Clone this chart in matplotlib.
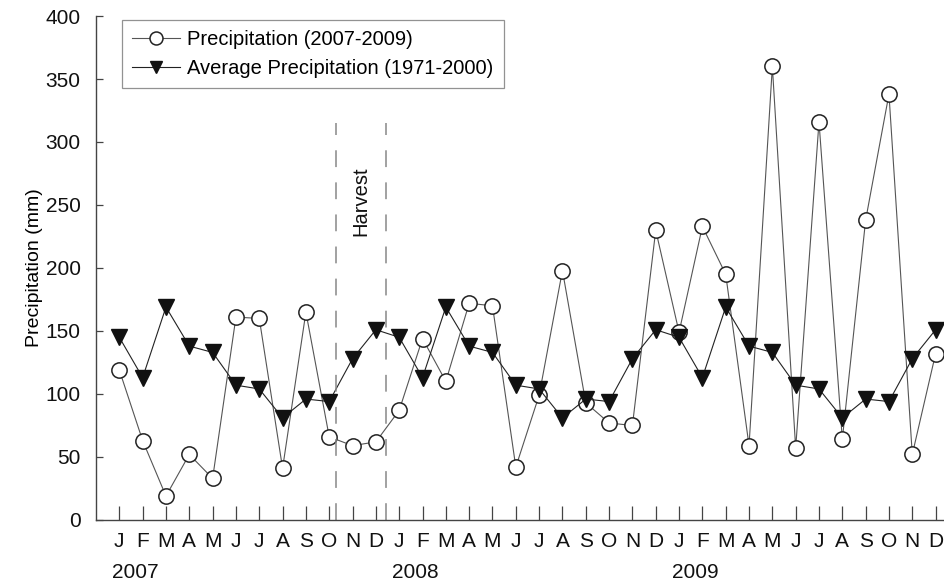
import numpy as np
import matplotlib
matplotlib.use('Agg')
import matplotlib.pyplot as plt

plt.rcParams['font.family'] = ['Liberation Sans', 'DejaVu Sans']

# Monthly precipitation (mm), Jan 2007 - Dec 2009
month_labels = list('JFMAMJJASOND') * 3
years = ['2007', '2008', '2009']
precip = [119, 63, 19, 52, 33, 161, 160, 41, 165, 66, 59, 62,
          87, 144, 110, 172, 170, 42, 99, 198, 93, 77, 75, 230,
          149, 233, 195, 59, 360, 57, 316, 64, 238, 338, 52, 132]
# long-term monthly average 1971-2000 (same each year)
avg_monthly = [145, 113, 169, 138, 133, 107, 104, 81, 96, 94, 128, 151]
avg = avg_monthly * 3
harvest_x = [9.3, 11.43]
harvest_top = 315

x = np.arange(len(precip))

fig = plt.figure(figsize=(9.44, 5.84), dpi=100)
ax = fig.add_axes([0.1017, 0.1096, 0.8983, 0.863])

ax.plot(x, precip, color='#555555', lw=0.8, marker='o', ms=11,
        mfc='white', mec='#222222', mew=1.1, label='Precipitation (2007-2009)')
ax.plot(x, avg, color='#222222', lw=0.8, marker='v', ms=11,
        mfc='#111111', mec='#111111', label='Average Precipitation (1971-2000)')

# harvest period
for hx in harvest_x:
    ax.vlines(hx, 0, harvest_top, colors='#888888', lw=1.1, linestyles=(0, (11, 10)))
ax.text(sum(harvest_x) / 2, 253, 'Harvest', rotation=90, ha='center', va='center',
        fontsize=14.5, color='#111111')

ax.set_xlim(-1, 35.36)
ax.set_ylim(0, 400)
ax.set_yticks(np.arange(0, 401, 50))
ax.set_xticks(x)
ax.set_xticklabels(month_labels)
ax.tick_params(axis='x', direction='in', length=10, width=0.9, color='#444444',
               pad=9, labelsize=15)
ax.tick_params(axis='y', direction='in', length=5, width=0.9, color='#444444',
               pad=11, labelsize=15)
for lab in ax.get_xticklabels() + ax.get_yticklabels():
    lab.set_color('#111111')

for i, yr in enumerate(years):
    ax.text(i * 12 - 0.3, -0.085, yr, transform=ax.get_xaxis_transform(),
            ha='left', va='top', fontsize=15, color='#111111')

ax.set_ylabel('Precipitation (mm)', fontsize=14, labelpad=2)

for side in ['top', 'right']:
    ax.spines[side].set_visible(False)
for side in ['left', 'bottom']:
    ax.spines[side].set_color('#444444')
    ax.spines[side].set_linewidth(1.0)

leg = ax.legend(loc='upper left', bbox_to_anchor=(0.0307, 0.992), borderaxespad=0,
                fancybox=False, edgecolor='#777777', fontsize=14.5, handlelength=2.4,
                markerscale=0.85, borderpad=0.5, labelspacing=0.5, handletextpad=0.35)
leg.get_frame().set_linewidth(0.9)

fig.savefig('out.png', dpi=100)
